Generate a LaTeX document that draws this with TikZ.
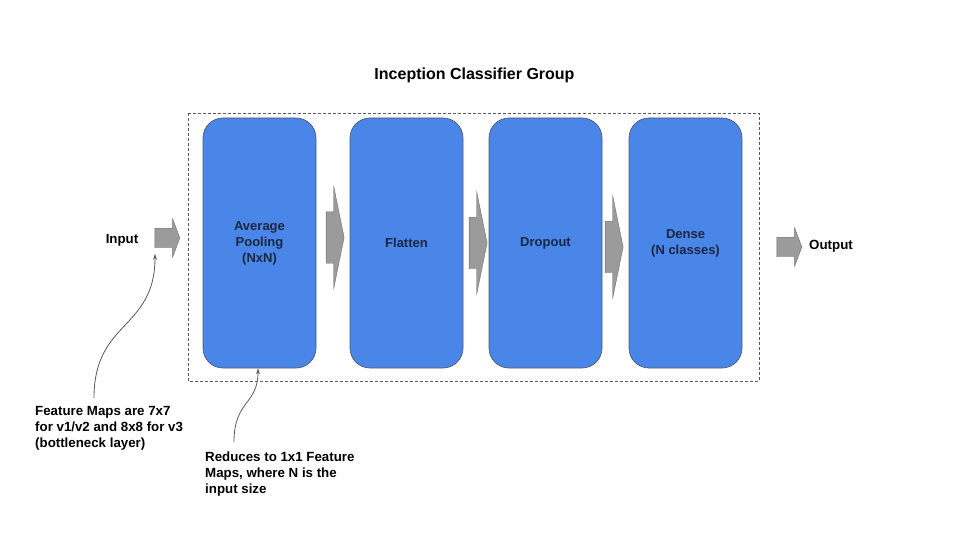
\documentclass[tikz,border=0pt]{standalone}
\usepackage{fontspec}
\setmainfont{Liberation Sans}
\usetikzlibrary{shapes.arrows, arrows.meta}

\definecolor{layerblue}{HTML}{4A86E8}
\definecolor{layeredge}{HTML}{4E5A70}
\definecolor{layertext}{HTML}{1B2640}
\definecolor{arrowgray}{HTML}{9B9B9B}
\definecolor{arrowedge}{HTML}{6E6E6E}
\definecolor{notegray}{HTML}{5A5A5A}

\tikzset{
  layer/.style={draw=layeredge, fill=layerblue, line width=0.7pt, rounded corners=20pt,
    minimum width=113pt, minimum height=250pt, align=center, text=layertext,
    font=\fontsize{13}{16}\selectfont\bfseries},
  flowarrow/.style={single arrow, draw=arrowedge, fill=arrowgray, line width=0.4pt,
    inner xsep=0pt, inner ysep=25.5pt, minimum height=18pt,
    single arrow head extend=25.5pt, single arrow tip angle=157},
  ioarrow/.style={single arrow, draw=arrowedge, fill=arrowgray, line width=0.4pt,
    inner xsep=0pt, inner ysep=9.5pt, minimum height=25pt,
    single arrow head extend=9.5pt, single arrow tip angle=139},
  label/.style={font=\fontsize{13.3}{16}\selectfont\bfseries, align=left, inner sep=0pt},
  notelink/.style={draw=notegray, line width=0.8pt, -{Stealth[length=6pt,width=4pt]}}
}

\begin{document}
\begin{tikzpicture}[x=1pt, y=-1pt]
    \useasboundingbox (0,0) rectangle (960,540);

    % Title and group frame
    \node[font=\fontsize{16}{19}\selectfont\bfseries] (title) at (474.5,75) {Inception Classifier Group};
    \draw[draw=notegray, line width=0.7pt, dash pattern=on 3pt off 2pt] (188,113) rectangle (759,381);

    % Layers
    \node[layer] (avgpool) at (259.5,243) {Average\\Pooling\\(NxN)};
    \node[layer] (flatten) at (406.5,243) {Flatten};
    \node[layer] (dropout) at (545.5,243) {Dropout};
    \node[layer] (dense) at (685.5,243) {Dense\\(N classes)};

    % Arrows between layers
    \node[flowarrow] (arrowa) at (332.5,237.5) {};
    \node[flowarrow] (arrowb) at (475.5,243) {};
    \node[flowarrow] (arrowc) at (611.5,247) {};

    % Input and output
    \node[label] (input) at (122,240) {Input};
    \node[ioarrow] (inarrow) at (165.5,238) {};
    \node[ioarrow] (outarrow) at (787.5,247) {};
    \node[label] (output) at (831,246) {Output};

    % Notes
    \node[label, anchor=north west] (mapnote) at (35,406)
        {Feature Maps are 7x7\\for v1/v2 and 8x8 for v3\\(bottleneck layer)};
    \node[label, anchor=north west] (poolnote) at (205,452)
        {Reduces to 1x1 Feature\\Maps, where N is the\\input size};

    \draw[notelink] ([xshift=59pt, yshift=8pt]mapnote.north west)
        .. controls (94,320) and (155,330) .. ([xshift=-10.5pt, yshift=-6pt]inarrow.south);
    \draw[notelink] ([xshift=29pt, yshift=10pt]poolnote.north west)
        .. controls (234,400) and (258,405) .. ([xshift=-1.5pt]avgpool.south);
\end{tikzpicture}
\end{document}
